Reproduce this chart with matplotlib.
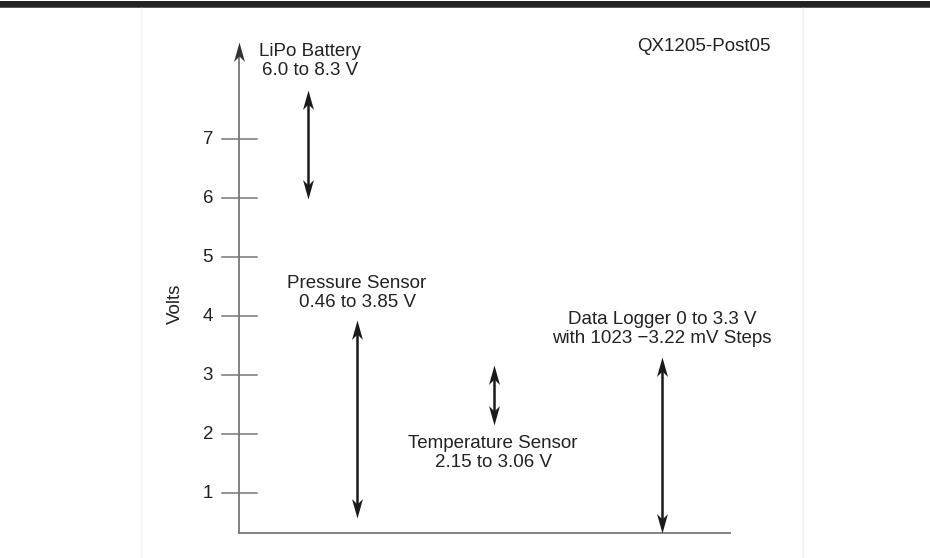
import matplotlib
matplotlib.use("Agg")
import matplotlib.pyplot as plt
from matplotlib.path import Path

plt.rcParams['font.family'] = ['Liberation Sans', 'DejaVu Sans']

# data: voltage ranges as drawn (low, high) and their labels
names = ["LiPo Battery", "Pressure Sensor", "Temperature Sensor", "Data Logger 0 to 3.3 V"]
sublabels = ["6.0 to 8.3 V", "0.46 to 3.85 V", "2.15 to 3.06 V", "with 1023 \u22123.22 mV Steps"]
v_low = [5.98, 0.58, 2.15, 0.32]
v_high = [7.83, 3.93, 3.17, 3.3]
yticks = [1, 2, 3, 4, 5, 6, 7]
tag = "QX1205-Post05"

# layout (x in pixels, label centres in volts)
arrow_x = [308, 357, 494, 662]
label_xy = [(310, 8.32), (357, 4.39), (493, 1.68), (662, 3.78)]
axis_x, base_v, top_v, base_end = 239, 0.32, 8.64, 730

# stealth-like arrow heads as custom markers (tip at the origin)
up_head = Path([(0, 0), (-0.28, -1), (0, -0.72), (0.28, -1), (0, 0)],
               [Path.MOVETO, Path.LINETO, Path.LINETO, Path.LINETO, Path.CLOSEPOLY])
down_head = Path([(0, 0), (-0.28, 1), (0, 0.72), (0.28, 1), (0, 0)],
                 [Path.MOVETO, Path.LINETO, Path.LINETO, Path.LINETO, Path.CLOSEPOLY])

fig = plt.figure(figsize=(9.3, 5.58), dpi=100)
ax = fig.add_axes([0, 0, 1, 1])
ax.set_xlim(0, 930)
ax.set_ylim(-0.1017, 9.356)
ax.axis("off")

txt = "#222222"
gray = "#777777"
ink = "#1a1a1a"
px = 1 / 59  # one pixel in volts

# top bar and faint panel borders
ax.axhspan(9.356 - 7 * px, 9.356 - 1 * px, color="#222222", lw=0)
ax.axhspan(9.356 - 8 * px, 9.356 - 7 * px, color="#5a5a5a", lw=0)
ax.plot([141, 141], [-0.1017, 9.356 - 8 * px], color="#f2f2f2", lw=1)
ax.plot([803, 803], [-0.1017, 9.356 - 8 * px], color="#f2f2f2", lw=1)

# axes
ax.plot([axis_x, base_end], [base_v, base_v], color=gray, lw=1.3)
ax.plot([axis_x, axis_x], [base_v, top_v - 0.2], color=gray, lw=1.3)
ax.plot([axis_x], [top_v], marker=up_head, ms=28, color="#333333", mew=0, ls="none")
for t in yticks:
    ax.plot([axis_x - 17, axis_x + 18], [t, t], color=gray, lw=1.1)
    ax.text(axis_x - 26, t, str(t), ha="right", va="center", fontsize=13.5, color=txt)
ax.text(175, 4.2, "Volts", rotation=90, ha="center", va="center", fontsize=13.5, color=txt)

# range arrows
for x, lo, hi in zip(arrow_x, v_low, v_high):
    ax.plot([x, x], [lo + 0.2, hi - 0.2], color=ink, lw=1.8, solid_capstyle="butt")
    ax.plot([x], [hi], marker=up_head, ms=28, color=ink, mew=0, ls="none")
    ax.plot([x], [lo], marker=down_head, ms=28, color=ink, mew=0, ls="none")

for (x, y), n, s in zip(label_xy, names, sublabels):
    ax.text(x, y, n + "\n" + s, ha="center", va="center", fontsize=13.5,
            color=txt, linespacing=1.12)

ax.text(704, 8.56, tag, ha="center", va="center", fontsize=13.5, color=txt)

fig.savefig("out.png", dpi=100)
